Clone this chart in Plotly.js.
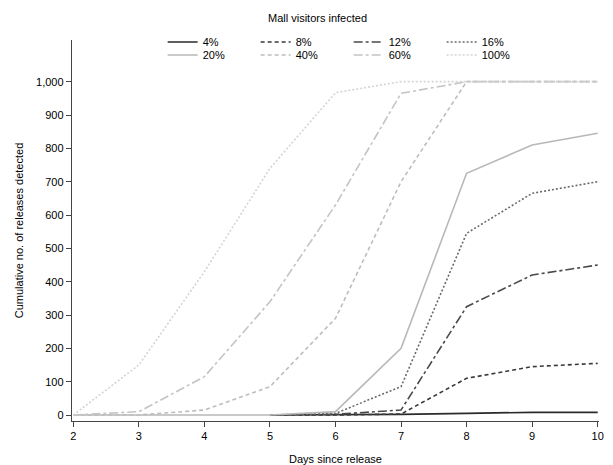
<!DOCTYPE html>
<html>
<head>
<meta charset="utf-8">
<script src="https://cdn.plot.ly/plotly-3.0.1.min.js"></script>
<style>html,body{margin:0;padding:0;background:#fff;}#chart{width:613px;height:465px;}</style>
</head>
<body>
<div id="chart"></div>
<script>
var days = [2, 3, 4, 5, 6, 7, 8, 9, 10];
var seriesNames = ['4%', '8%', '12%', '16%', '20%', '40%', '60%', '100%'];
var v4   = [null, null, null, 0, 0, 2, 5, 8, 8];
var v8   = [null, null, null, 0, 0, 3, 110, 145, 155];
var v12  = [null, null, null, 0, 2, 15, 325, 420, 450];
var v16  = [null, null, null, 0, 5, 85, 545, 665, 700];
var v20  = [0, 0, 0, 0, 10, 200, 725, 810, 845];
var v40  = [0, 0, 15, 85, 290, 700, 1000, 1000, 1000];
var v60  = [0, 10, 115, 340, 630, 965, 1000, 1000, 1000];
var v100 = [0, 150, 430, 740, 967, 1000, 1000, 1000, 1000];
var yTicks = [0, 100, 200, 300, 400, 500, 600, 700, 800, 900, 1000];
var xTicks = days;

var values = [v4, v8, v12, v16, v20, v40, v60, v100];
var colors = ['#2a2a2a', '#3a3a3a', '#4a4a4a', '#6a6a6a', '#b8b8b8', '#bdbdbd', '#c4c4c4', '#d4d4d4'];
var dashes = ['solid', '4px,3px', '9px,3px,3px,3px', '2px,2px', 'solid', '4px,3px', '9px,3px,3px,3px', '2px,2px'];

var traces = values.map(function (v, i) {
  return {
    x: days, y: v, name: seriesNames[i], type: 'scatter', mode: 'lines',
    line: {color: colors[i], width: 1.6, dash: dashes[i]},
    legend: i < 4 ? 'legend' : 'legend2',
    hoverinfo: 'skip'
  };
});

var font = 'Liberation Sans, Arial, sans-serif';
var legendBase = function (yPaper) {
  return {
    orientation: 'h', x: 0.172, y: yPaper, xanchor: 'left', yanchor: 'middle',
    entrywidth: 48, entrywidthmode: 'pixels',
    font: {family: font, size: 11, color: '#000'},
    bgcolor: 'rgba(255,255,255,0)', traceorder: 'normal',
    itemwidth: 30
  };
};
var layout = {
  width: 613, height: 465,
  margin: {l: 72, r: 14, t: 40, b: 44},
  paper_bgcolor: '#fff', plot_bgcolor: '#fff',
  font: {family: font, size: 11, color: '#000'},
  showlegend: true,
  legend: legendBase(1 - 2 / 381),
  legend2: legendBase(1 - 15 / 381),
  annotations: [{
    text: 'Mall visitors infected', xref: 'paper', yref: 'paper',
    x: 0.466, y: 1.0 + 22 / 381, xanchor: 'center', yanchor: 'middle',
    showarrow: false, font: {family: font, size: 11, color: '#000'}
  }],
  xaxis: {
    range: [1.98, 10.02], tickvals: xTicks, ticks: 'outside', ticklen: 5,
    tickcolor: '#444', showline: true, linecolor: '#444', linewidth: 1.2,
    showgrid: false, zeroline: false,
    tickfont: {family: font, size: 11, color: '#000'},
    title: {text: 'Days since release', font: {family: font, size: 11, color: '#000'}, standoff: 13}
  },
  yaxis: {
    range: [-18, 1125], tickvals: yTicks, tickformat: ',', ticks: 'outside', ticklen: 5,
    tickcolor: '#444', showline: true, linecolor: '#444', linewidth: 1.2,
    showgrid: false, zeroline: false,
    tickfont: {family: font, size: 11, color: '#000'},
    title: {text: 'Cumulative no. of releases detected', font: {family: font, size: 11, color: '#000'}, standoff: 10}
  }
};

Plotly.newPlot('chart', traces, layout, {displayModeBar: false, staticPlot: true});
</script>
</body>
</html>
